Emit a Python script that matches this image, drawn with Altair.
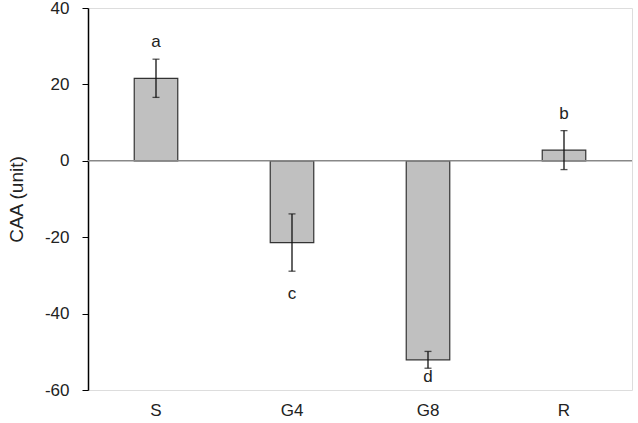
import altair as alt
import pandas as pd

categories = ["S", "G4", "G8", "R"]
means = [21.6, -21.4, -52.1, 2.8]
errors = [5.0, 7.5, 2.2, 5.1]
letters = ["a", "c", "d", "b"]
letter_pos = [31.0, -34.9, -56.6, 12.2]

df = pd.DataFrame({
    "cat": categories,
    "mean": means,
    "lo": [m - e for m, e in zip(means, errors)],
    "hi": [m + e for m, e in zip(means, errors)],
    "letter": letters,
    "lpos": letter_pos,
})

FONT = "Liberation Sans"

x = alt.X("cat:N", sort=categories, title=None,
          scale=alt.Scale(paddingInner=0.68, paddingOuter=0.34),
          axis=alt.Axis(labelAngle=0, ticks=False, domain=False, labelPadding=12,
                        labelFontSize=17, labelFont=FONT, labelColor="#222"))
yscale = alt.Scale(domain=[-60, 40], nice=False, zero=False)
yaxis = alt.Axis(values=[-60, -40, -20, 0, 20, 40], grid=False, tickSize=6,
                 tickColor="#000", domainColor="#000", domainWidth=1.5, tickWidth=1,
                 labelExpr="'' + datum.value",
                 labelPadding=13, labelFontSize=17, labelFont=FONT, labelColor="#222",
                 title="CAA (unit)", titleFontSize=19, titleFont=FONT,
                 titleFontWeight="normal", titleColor="#222", titlePadding=18)

base = alt.Chart(df)

bars = base.mark_bar(color="#c0c0c0", stroke="#333", strokeWidth=1.2).encode(
    x=x,
    y=alt.Y("mean:Q", scale=yscale, axis=yaxis),
    y2=alt.datum(0),
)

zero = alt.Chart(pd.DataFrame({"z": [0]})).mark_rule(color="#888", strokeWidth=1.5).encode(
    y=alt.Y("z:Q", scale=yscale)
)

err = base.mark_rule(color="#111", strokeWidth=1.3).encode(
    x=x, y=alt.Y("lo:Q", scale=yscale), y2="hi:Q"
)
cap_hi = base.mark_tick(color="#111", thickness=1.3, size=7, orient="horizontal").encode(
    x=x, y=alt.Y("hi:Q", scale=yscale)
)
cap_lo = base.mark_tick(color="#111", thickness=1.3, size=7, orient="horizontal").encode(
    x=x, y=alt.Y("lo:Q", scale=yscale)
)

text = base.mark_text(fontSize=17, font=FONT, color="#222", baseline="middle").encode(
    x=x, y=alt.Y("lpos:Q", scale=yscale), text="letter:N"
)

chart = alt.layer(bars, zero, err, cap_hi, cap_lo, text).properties(
    width=544, height=382,
    autosize=alt.AutoSizeParams(type="none"),
    padding={"left": 88, "top": 8, "right": 6, "bottom": 33},
).configure_view(stroke="#333", strokeWidth=1.8).configure(background="white")

chart.save("out.html", embed_options={"renderer": "svg", "actions": False})
